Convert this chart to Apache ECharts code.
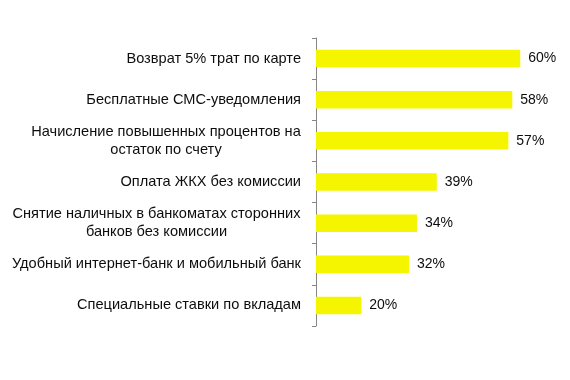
<!DOCTYPE html>
<html><head><meta charset="utf-8">
<script src="https://cdn.jsdelivr.net/npm/echarts@6/dist/echarts.min.js"></script>
<style>html,body{margin:0;padding:0;background:#fff}#c{width:570px;height:380px}</style>
</head><body><div id="c"></div>
<script>
var categories = [
  "Возврат 5% трат по карте",
  "Бесплатные СМС-уведомления",
  "Начисление повышенных процентов на\nостаток по счету",
  "Оплата ЖКХ без комиссии",
  "Снятие наличных в банкоматах сторонних\nбанков без комиссии",
  "Удобный интернет-банк и мобильный банк",
  "Специальные ставки по вкладам"
];
var values = [60, 58, 57, 39, 34, 32, 20];

var FONT = "Liberation Sans";
var FS = 14.6;
var TXT = '#0d0d0d';

// build centered rich styles for multi-line labels (width = longest line)
var ctx = document.createElement('canvas').getContext('2d');
ctx.font = FS + 'px "' + FONT + '"';
var rich = {};
categories.forEach(function (c, i) {
  if (c.indexOf('\n') < 0) return;
  var w = 0;
  c.split('\n').forEach(function (s) { w = Math.max(w, ctx.measureText(s).width); });
  rich['r' + i] = {width: Math.ceil(w), align: 'center', fontFamily: FONT, fontSize: FS, color: TXT, lineHeight: 18};
});

var chart = echarts.init(document.getElementById('c'));
chart.setOption({
  animation: false,
  grid: {left: 316, top: 38, bottom: 54, right: 12},
  xAxis: {type: 'value', min: 8.6, max: 69.5, show: false},
  yAxis: {
    type: 'category', data: categories, inverse: true,
    axisLine: {show: true, lineStyle: {color: '#868686', width: 1}},
    axisTick: {show: true, length: 4, alignWithLabel: false, lineStyle: {color: '#868686', width: 1}},
    axisLabel: {
      margin: 15, fontFamily: FONT, fontSize: FS, color: TXT, lineHeight: 18,
      formatter: function (v, idx) {
        if (v.indexOf('\n') < 0) return v;
        return v.split('\n').map(function (s) { return '{r' + idx + '|' + s + '}'; }).join('\n');
      },
      rich: rich
    }
  },
  series: [{
    type: 'bar', data: values, barWidth: 17.5,
    itemStyle: {color: '#F5F500'},
    label: {show: true, position: 'right', distance: 8, formatter: '{c}%',
      fontFamily: FONT, fontSize: 14, color: TXT}
  }]
});
</script></body></html>
